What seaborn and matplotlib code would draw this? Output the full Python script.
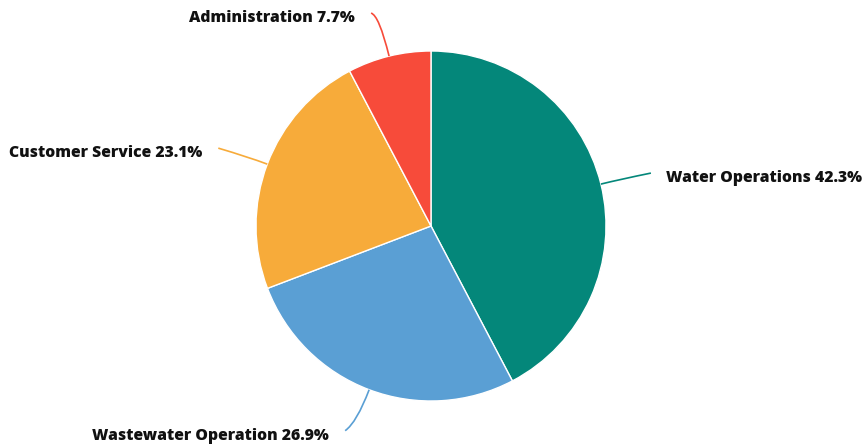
import numpy as np
import matplotlib
matplotlib.use("Agg")
import matplotlib.pyplot as plt
from matplotlib.path import Path
from matplotlib.patches import PathPatch
import seaborn as sns

# Budget share by department
departments = ["Water Operations", "Wastewater Operation", "Customer Service", "Administration"]
shares = [42.3, 26.9, 23.1, 7.7]
colors = ["#04877A", "#5A9FD4", "#F7AB3A", "#F74B3A"]

sns.set_theme(style="white")
plt.rcParams["font.family"] = ["Open Sans", "DejaVu Sans"]

W, H = 868, 447
fig = plt.figure(figsize=(W / 100, H / 100), dpi=100)
ax = fig.add_axes([0, 0, 1, 1])

cx, cy, r = 431, H - 226, 175
wedges, _ = ax.pie(shares, colors=colors, startangle=90, counterclock=False,
                   center=(cx, cy), radius=r,
                   wedgeprops=dict(edgecolor="white", linewidth=1.0))
ax.set_xlim(0, W)
ax.set_ylim(0, H)
ax.set_aspect("equal")
ax.axis("off")

# label placement per slice: (control radius extra, end dx, end dy, text ha)
leader = {
    "Water Operations": (20, 50, 11, "left"),
    "Wastewater Operation": (35, -24, -41, "right"),
    "Customer Service": (20, -49, 16, "right"),
    "Administration": (42, -18, 43, "right"),
}

total = sum(shares)
cum = 0.0
for name, val, col in zip(departments, shares, colors):
    mid = (cum + val / 2) / total * 2 * np.pi  # clockwise from top
    cum += val
    sx, sy = cx + r * np.sin(mid), cy + r * np.cos(mid)
    extra, dx, dy, ha = leader[name]
    kx, ky = cx + (r + extra) * np.sin(mid), cy + (r + extra) * np.cos(mid)
    ex, ey = sx + dx, sy + dy
    path = Path([(sx, sy), (kx, ky), (ex, ey)], [Path.MOVETO, Path.CURVE3, Path.CURVE3])
    ax.add_patch(PathPatch(path, facecolor="none", edgecolor=col, linewidth=1.2))
    tx = ex + (15 if ha == "left" else -16)
    ax.text(tx, ey - 5, f"{name} {val}%", ha=ha, va="center",
            fontsize=11.3, fontweight=800, color="#111111")

fig.savefig("out.png", dpi=100)
